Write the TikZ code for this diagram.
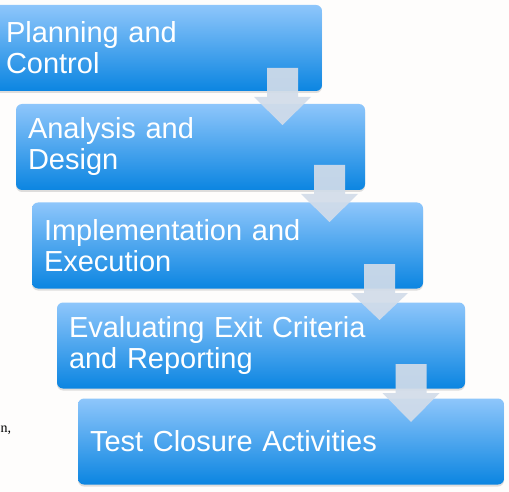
\documentclass[tikz,border=0pt]{standalone}
\usepackage{fontspec}
\usepackage{xcolor}
\usepackage{tikz}
\usetikzlibrary{positioning,shadows}
\newfontfamily\boxfont{Liberation Sans}
\newfontfamily\notefont{Liberation Serif}

\definecolor{stagetop}{HTML}{8EC6FB}
\definecolor{stagemid}{HTML}{5AAEF6}
\definecolor{stagebot}{HTML}{0B85E1}
\definecolor{flowgray}{HTML}{D2DCE9}
\definecolor{paper}{HTML}{FEFDFC}

\tikzset{
  stage/.style={rounded corners=6pt, minimum height=86pt, inner xsep=12pt,
    top color=stagetop, middle color=stagemid, bottom color=stagebot,
    drop shadow={shadow xshift=0pt, shadow yshift=-2pt, opacity=.25},
    text=white, align=left, font=\boxfont\fontsize{29}{31}\selectfont},
  flow/.style={fill=flowgray, opacity=.92}
}

\begin{document}
\begin{tikzpicture}[x=1pt, y=-1pt]
        \fill[paper] (0,0) rectangle (509,492);
        \useasboundingbox (0,0) rectangle (509,492);

        \node[anchor=base west, font=\notefont\fontsize{14}{16}\selectfont] (note) at (-3,432) {n,};

        \node[stage, text width=304pt] (S_1) at (158,48) {Planning and\\Control};
        \node[stage, text width=325pt, below of=S_1, node distance=99pt, xshift=32.5pt] (S_2) {Analysis and\\Design};
        \node[stage, text width=367pt, below of=S_2, node distance=98.5pt, xshift=37pt] (S_3) {Implementation and\\Execution};
        \node[stage, text width=384pt, below of=S_3, node distance=100pt, xshift=33.5pt] (S_4) {Evaluating Exit Criteria\\and Reporting};
        \node[stage, text width=402pt, below of=S_4, node distance=96pt, xshift=30pt] (S_5) {Test Closure Activities};

        \coordinate (A_1) at (282.5,68);
        \coordinate (A_2) at (329.5,165);
        \coordinate (A_3) at (379.5,264);
        \coordinate (A_4) at (411,364);

        \fill[flow] (A_1) ++(-15.5,0) -- ++(31,0) -- ++(0,29) -- ++(13,0) -- ++(-28.5,28) -- ++(-28.5,-28) -- ++(13,0) -- cycle;
        \fill[flow] (A_2) ++(-15.5,0) -- ++(31,0) -- ++(0,29) -- ++(13,0) -- ++(-28.5,28) -- ++(-28.5,-28) -- ++(13,0) -- cycle;
        \fill[flow] (A_3) ++(-15.5,0) -- ++(31,0) -- ++(0,29) -- ++(13,0) -- ++(-28.5,27) -- ++(-28.5,-27) -- ++(13,0) -- cycle;
        \fill[flow] (A_4) ++(-15.5,0) -- ++(31,0) -- ++(0,29) -- ++(13,0) -- ++(-28.5,29) -- ++(-28.5,-29) -- ++(13,0) -- cycle;
    \end{tikzpicture}
\end{document}
